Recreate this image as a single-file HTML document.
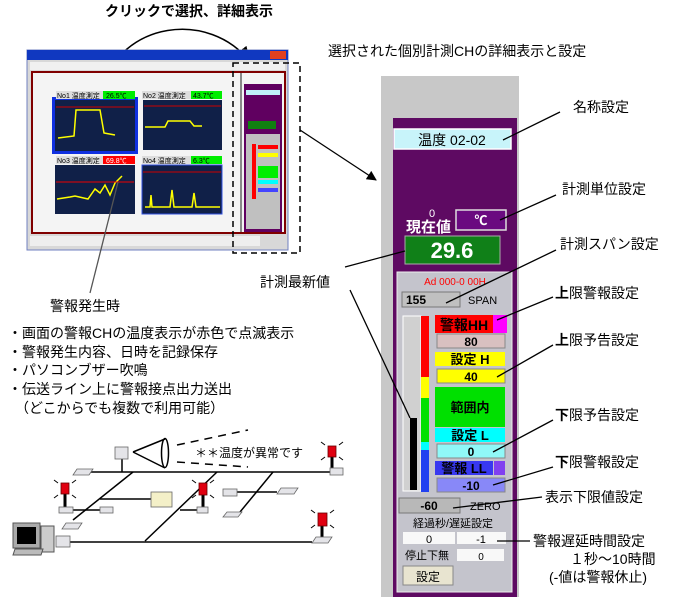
<!DOCTYPE html>
<html><head><meta charset="utf-8"><style>
html,body{margin:0;padding:0;background:#fff;}
svg{display:block;}
text{font-family:"Liberation Sans","Noto Sans CJK JP",sans-serif;}
</style></head><body>
<svg width="690" height="597" viewBox="0 0 690 597" xmlns="http://www.w3.org/2000/svg">
<defs>
<marker id="ah" markerWidth="10" markerHeight="10" refX="9" refY="5" orient="auto" markerUnits="userSpaceOnUse"><path d="M0,0 L10,5 L0,10 z" fill="#000"/></marker>
<marker id="ah2" markerWidth="16" markerHeight="14" refX="15" refY="7" orient="auto" markerUnits="userSpaceOnUse"><path d="M0,0 L16,7 L0,14 z" fill="#000"/></marker>
</defs>
<rect width="690" height="597" fill="#fff"/>

<text x="105" y="16" font-size="14" font-weight="bold">クリックで選択、詳細表示</text>
<text x="328" y="56" font-size="14">選択された個別計測CHの詳細表示と設定</text>
<path d="M100,92 C120,20 210,10 250,62" fill="none" stroke="#000" stroke-width="1.5" marker-end="url(#ah2)"/>

<!-- screenshot window -->
<rect x="27" y="50" width="261" height="200" fill="#d8d8d8" stroke="#7080c0"/>
<rect x="27" y="50" width="261" height="10" fill="#1038c0"/>
<rect x="270" y="51" width="16" height="8" fill="#e04020"/>
<rect x="30" y="62" width="255" height="8" fill="#f0f0f0"/>
<rect x="32" y="72" width="253" height="161" fill="#f4f4f4" stroke="#800000" stroke-width="2"/>
<line x1="241" y1="73" x2="241" y2="232" stroke="#888" stroke-width="2"/>
<rect x="244" y="84" width="38" height="148" fill="#600060"/>
<rect x="246" y="90" width="34" height="5" fill="#c0f0f8"/>
<rect x="248" y="121" width="28" height="8" fill="#108010"/>
<rect x="246" y="134" width="34" height="95" fill="#c0c0c0"/>
<rect x="252" y="144" width="4" height="55" fill="#f00"/>
<rect x="258" y="145" width="20" height="4" fill="#f00"/>
<rect x="258" y="153" width="20" height="4" fill="#ff0"/>
<rect x="258" y="166" width="20" height="12" fill="#0e0"/>
<rect x="258" y="180" width="20" height="4" fill="#0ff"/>
<rect x="258" y="188" width="20" height="4" fill="#44f"/>
<rect x="30" y="236" width="230" height="10" fill="#eee"/>
<rect x="52" y="97" width="86" height="57" fill="#1030e0"/>
<rect x="55" y="100" width="80" height="51" fill="#102048"/>
<polyline points="58,138 74,136 76,110 100,110 104,133 115,135" fill="none" stroke="#ff0" stroke-width="1.5"/>
<line x1="56" y1="107" x2="134" y2="107" stroke="#c00"/>
<rect x="56" y="91" width="47" height="8" fill="#ddd"/><text x="57" y="98" font-size="7">No1 温度測定</text>
<rect x="103" y="91" width="32" height="8" fill="#0e0"/><text x="106" y="98" font-size="7">26.5℃</text>
<rect x="143" y="100" width="79" height="50" fill="#102048"/>
<polyline points="145,127 165,127 168,121 190,121 194,126 202,126" fill="none" stroke="#ff0" stroke-width="1.5"/>
<line x1="144" y1="106" x2="221" y2="106" stroke="#c00"/>
<rect x="142" y="91" width="49" height="8" fill="#ddd"/><text x="143" y="98" font-size="7">No2 温度測定</text>
<rect x="191" y="91" width="31" height="8" fill="#0e0"/><text x="193" y="98" font-size="7">43.7℃</text>
<rect x="55" y="165" width="80" height="49" fill="#102048"/>
<polyline points="57,199 70,197 75,196 88,199 95,189 100,193 105,185 110,195 115,183 122,176" fill="none" stroke="#ff0" stroke-width="1.5"/>
<line x1="56" y1="182" x2="134" y2="182" stroke="#e00"/>
<rect x="56" y="156" width="47" height="8" fill="#ddd"/><text x="57" y="163" font-size="7">No3 温度測定</text>
<rect x="103" y="156" width="32" height="8" fill="#f00"/><text x="106" y="163" font-size="7" fill="#fff">69.8℃</text>
<rect x="142" y="165" width="80" height="49" fill="#102048" stroke="#3050e0"/>
<polyline points="145,207 150,207 151,195 152,207 170,207 172,190 174,207 192,207 194,193 196,207 220,207" fill="none" stroke="#ff0" stroke-width="1.5"/>
<line x1="143" y1="172" x2="221" y2="172" stroke="#c00"/>
<rect x="142" y="156" width="49" height="8" fill="#ddd"/><text x="143" y="163" font-size="7">No4 温度測定</text>
<rect x="191" y="156" width="31" height="8" fill="#0e0"/><text x="193" y="163" font-size="7">6.3℃</text>
<rect x="233" y="63" width="67" height="190" fill="none" stroke="#000" stroke-width="1.5" stroke-dasharray="6,4"/>
<line x1="300" y1="130" x2="376" y2="180" stroke="#000" stroke-width="1.3" marker-end="url(#ah)"/>

<!-- detail panel -->
<rect x="381" y="76" width="138" height="521" fill="#c8c8c8"/>
<rect x="393" y="118" width="124" height="479" fill="#5e0a62"/>
<rect x="394" y="129" width="117" height="20" fill="#c8f4fa" stroke="#fff" stroke-width="1.5"/>
<text x="452" y="145" font-size="14" text-anchor="middle">温度 02-02</text>
<text x="432" y="217" font-size="11" fill="#fff" text-anchor="middle">0</text>
<text x="406" y="232" font-size="15" font-weight="bold" fill="#fff">現在値</text>
<rect x="456" y="210" width="50" height="20" fill="#6a0a80" stroke="#ddd" stroke-width="1.5"/>
<text x="481" y="225" font-size="13" fill="#fff" text-anchor="middle" font-weight="bold">℃</text>
<rect x="405" y="236" width="95" height="28" fill="#108018" stroke="#aaa"/>
<text x="452" y="258" font-size="22" fill="#fff" text-anchor="middle" font-weight="bold">29.6</text>
<rect x="397" y="272" width="115" height="320" fill="#c4c4cc" stroke="#eee"/>
<text x="455" y="285" font-size="10" fill="#f00" text-anchor="middle">Ad 000-0 00H</text>
<rect x="402" y="292" width="58" height="15" fill="#c0c0c0" stroke="#777"/>
<text x="406" y="304" font-size="12" font-weight="bold">155</text>
<text x="468" y="304" font-size="11">SPAN</text>
<rect x="403" y="316" width="18" height="175" fill="#d0d0d0" stroke="#fff"/>
<rect x="410" y="418" width="7" height="72" fill="#000"/>
<rect x="421" y="316" width="8" height="61" fill="#f00"/>
<rect x="421" y="377" width="8" height="21" fill="#ff0"/>
<rect x="421" y="398" width="8" height="44" fill="#00e000"/>
<rect x="421" y="442" width="8" height="8" fill="#0ff"/>
<rect x="421" y="450" width="8" height="42" fill="#2040f0"/>
<rect x="435" y="315" width="58" height="18" fill="#f00"/>
<rect x="493" y="315" width="14" height="18" fill="#f0f"/>
<text x="464" y="330" font-size="14" font-weight="bold" text-anchor="middle">警報HH</text>
<rect x="437" y="334" width="68" height="14" fill="#d8c0c0" stroke="#888"/>
<text x="471" y="346" font-size="12" font-weight="bold" text-anchor="middle">80</text>
<rect x="435" y="352" width="70" height="14" fill="#ff0"/>
<text x="470" y="364" font-size="13" font-weight="bold" text-anchor="middle">設定 H</text>
<rect x="437" y="369" width="68" height="14" fill="#ff0" stroke="#888"/>
<text x="471" y="381" font-size="12" font-weight="bold" text-anchor="middle">40</text>
<rect x="435" y="387" width="70" height="40" fill="#00e000"/>
<text x="470" y="412" font-size="13" font-weight="bold" text-anchor="middle">範囲内</text>
<rect x="435" y="428" width="70" height="14" fill="#0ff"/>
<text x="470" y="440" font-size="13" font-weight="bold" text-anchor="middle">設定 L</text>
<rect x="437" y="444" width="68" height="14" fill="#90f8f8" stroke="#888"/>
<text x="471" y="456" font-size="12" font-weight="bold" text-anchor="middle">0</text>
<rect x="435" y="461" width="58" height="14" fill="#3838f0"/>
<rect x="494" y="461" width="11" height="14" fill="#8040f0"/>
<text x="464" y="473" font-size="13" font-weight="bold" text-anchor="middle">警報 LL</text>
<rect x="437" y="478" width="68" height="14" fill="#8888f8" stroke="#888"/>
<text x="471" y="490" font-size="12" font-weight="bold" text-anchor="middle">-10</text>
<rect x="399" y="498" width="61" height="15" fill="#b8b8b8" stroke="#777"/>
<text x="429" y="510" font-size="12" font-weight="bold" text-anchor="middle">-60</text>
<text x="470" y="510" font-size="11">ZERO</text>
<text x="413" y="527" font-size="11">経過秒/遅延設定</text>
<rect x="403" y="532" width="52" height="12" fill="#f8f8f8"/>
<text x="429" y="543" font-size="11" text-anchor="middle">0</text>
<rect x="457" y="532" width="49" height="12" fill="#f8f8f8"/>
<text x="481" y="543" font-size="11" text-anchor="middle">-1</text>
<text x="405" y="559" font-size="11">停止下無</text>
<rect x="457" y="549" width="47" height="12" fill="#f8f8f8"/>
<text x="481" y="560" font-size="10" text-anchor="middle">0</text>
<rect x="403" y="566" width="50" height="19" fill="#e8e4d0" stroke="#888"/>
<text x="428" y="581" font-size="12" text-anchor="middle">設定</text>

<g font-size="14">
<text x="573" y="112">名称設定</text>
<text x="562" y="194">計測単位設定</text>
<text x="560" y="249">計測スパン設定</text>
<text x="555" y="298"><tspan font-weight="bold">上</tspan>限警報設定</text>
<text x="555" y="345"><tspan font-weight="bold">上</tspan>限予告設定</text>
<text x="555" y="420"><tspan font-weight="bold">下</tspan>限予告設定</text>
<text x="555" y="467"><tspan font-weight="bold">下</tspan>限警報設定</text>
<text x="545" y="502">表示下限値設定</text>
<text x="533" y="546">警報遅延時間設定</text>
<text x="570" y="564">１秒～10時間</text>
<text x="549" y="582">(-値は警報休止)</text>
<text x="260" y="287">計測最新値</text>
</g>
<g stroke="#000" stroke-width="1.3">
<line x1="503" y1="140" x2="560" y2="112"/>
<line x1="500" y1="220" x2="556" y2="195"/>
<line x1="446" y1="303" x2="556" y2="250"/>
<line x1="497" y1="320" x2="553" y2="297"/>
<line x1="497" y1="377" x2="553" y2="345"/>
<line x1="493" y1="452" x2="553" y2="420"/>
<line x1="493" y1="485" x2="553" y2="467"/>
<line x1="453" y1="508" x2="542" y2="497"/>
<line x1="497" y1="541" x2="530" y2="541"/>
<line x1="345" y1="267" x2="405" y2="251"/>
<line x1="350" y1="290" x2="410" y2="418"/>
</g>

<line x1="90" y1="293" x2="118" y2="182" stroke="#555" stroke-width="1.3"/>
<g font-size="14">
<text x="50" y="311">警報発生時</text>
<text x="8" y="338">・画面の警報CHの温度表示が赤色で点滅表示</text>
<text x="8" y="357">・警報発生内容、日時を記録保存</text>
<text x="8" y="375">・パソコンブザー吹鳴</text>
<text x="8" y="394">・伝送ライン上に警報接点出力送出</text>
<text x="8" y="413">　（どこからでも複数で利用可能）</text>
</g>

<!-- network -->
<g stroke="#000" stroke-width="1.5" fill="none">
<line x1="83" y1="472" x2="333" y2="472"/>
<line x1="70" y1="542" x2="312" y2="542"/>
<line x1="133" y1="472" x2="73" y2="520"/>
<line x1="217" y1="472" x2="145" y2="541"/>
<line x1="273" y1="472" x2="240" y2="512"/>
<line x1="100" y1="499" x2="151" y2="499"/>
<line x1="73" y1="510" x2="100" y2="510"/>
<line x1="180" y1="510" x2="197" y2="510"/>
<line x1="237" y1="492" x2="277" y2="492"/>
<line x1="122" y1="472" x2="122" y2="459"/>
<path d="M133,452 L165,439 M133,452 L165,468"/>
<ellipse cx="165" cy="453" rx="3.5" ry="14.5"/>
<line x1="177" y1="445" x2="248" y2="430" stroke-dasharray="8,6"/>
<line x1="177" y1="462" x2="248" y2="467" stroke-dasharray="8,6"/>
</g>
<g stroke="#000" stroke-width="3">
<line x1="65" y1="494" x2="65" y2="507"/>
<line x1="203" y1="495" x2="203" y2="507"/>
<line x1="332" y1="457" x2="332" y2="468"/>
<line x1="322" y1="526" x2="322" y2="537"/>
</g>
<g stroke="#000" stroke-width="1">
<path d="M54,480 l4,3 M76,480 l-4,3 M54,498 l4,-3 M76,498 l-4,-3"/>
<path d="M192,480 l4,3 M214,480 l-4,3 M192,498 l4,-3 M214,498 l-4,-3"/>
<path d="M321,442 l4,3 M343,442 l-4,3 M321,460 l4,-3 M343,460 l-4,-3"/>
<path d="M311,510 l4,3 M334,510 l-4,3 M311,528 l4,-3 M334,528 l-4,-3"/>
</g>
<text x="195" y="457" font-size="12">＊＊温度が異常です</text>
<g fill="#e00010" stroke="#600" stroke-width="0.8">
<rect x="61" y="483" width="8" height="11"/>
<rect x="199" y="483" width="8" height="12"/>
<rect x="328" y="446" width="8" height="11"/>
<rect x="318" y="513" width="9" height="13"/>
</g>
<g fill="#e4e4e8" stroke="#666" stroke-width="0.8">
<rect x="115" y="447" width="13" height="12"/>
<rect x="59" y="507" width="14" height="6"/>
<rect x="100" y="507" width="13" height="6"/>
<rect x="197" y="507" width="11" height="6"/>
<rect x="223" y="489" width="14" height="7"/>
<rect x="330" y="468" width="13" height="7"/>
<rect x="151" y="492" width="21" height="15" fill="#f4f0c8"/>
<polygon points="77,469 93,469 89,475 73,475"/>
<polygon points="66,523 82,523 78,529 62,529"/>
<polygon points="281,488 298,488 294,494 277,494"/>
<polygon points="227,512 242,512 238,517 223,517"/>
<polygon points="316,537 332,537 328,543 312,543"/>
<rect x="56" y="536" width="14" height="11"/>
</g>
<rect x="13" y="523" width="27" height="25" fill="#aaa" stroke="#555"/>
<rect x="17" y="527" width="19" height="17" fill="#000"/>
<rect x="41" y="526" width="13" height="26" fill="#ccc" stroke="#555"/>
<polygon points="15,549 43,549 41,555 13,555" fill="#bbb" stroke="#555"/>
</svg>
</body></html>
